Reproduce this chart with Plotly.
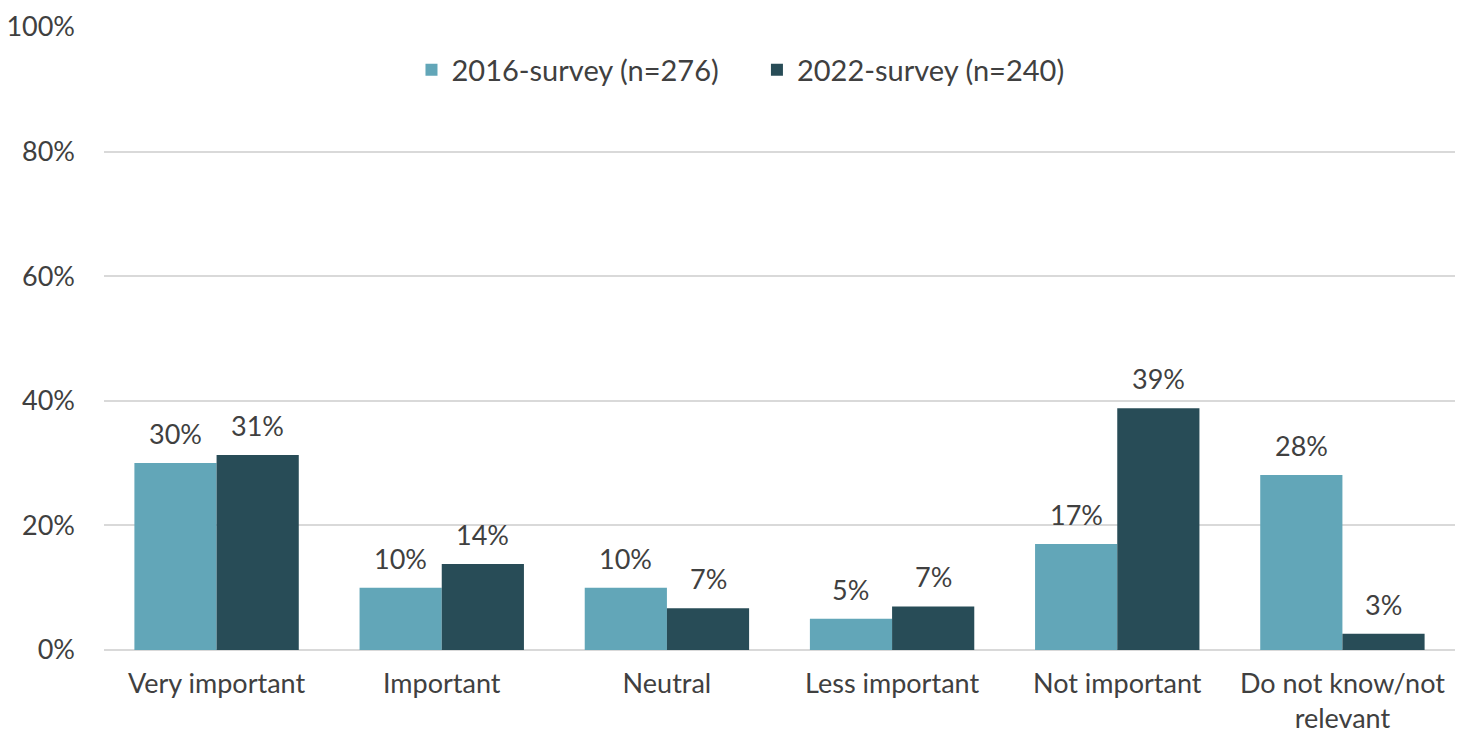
import plotly.graph_objects as go

categories = ["Very important", "Important", "Neutral", "Less important",
              "Not important", "Do not know/not<br>relevant"]
series_names = ["2016-survey (n=276)", "2022-survey (n=240)"]
values_2016 = [30.0, 10.0, 10.0, 5.0, 17.0, 28.1]
values_2022 = [31.3, 13.8, 6.7, 7.0, 38.8, 2.6]
y_ticks = [0, 20, 40, 60, 80, 100]
y_tick_labels = ["0%", "20%", "40%", "60%", "80%", "100%"]

colors = ["#62A6B8", "#284C57"]
font_family = "Lato, 'Open Sans', sans-serif"
text_color = "#404040"
bargap = 0.27
fs = 27

fig = go.Figure()
legend_ids = ["legend", "legend2"]
for name, vals, col, lg in zip(series_names, [values_2016, values_2022],
                               colors, legend_ids):
    fig.add_trace(go.Bar(
        x=categories, y=vals, name=name, legend=lg,
        marker=dict(color=col, line=dict(width=0)),
    ))

# value labels above each bar, offset to the bar's slot within the group
bar_w = (1 - bargap) / 2
annotations = []
for i, vals in enumerate([values_2016, values_2022]):
    shift = (i - 0.5) * bar_w
    for j, v in enumerate(vals):
        annotations.append(dict(
            x=j + shift, y=v, xref="x", yref="y",
            text=f"{v:.0f}%", showarrow=False,
            yanchor="bottom", yshift=11,
            font=dict(family=font_family, size=fs, color=text_color),
        ))

legend_font = dict(family=font_family, size=29, color=text_color)
fig.update_layout(
    width=1463, height=733,
    margin=dict(l=104, r=8, t=27, b=83),
    paper_bgcolor="white", plot_bgcolor="white",
    barmode="group", bargap=bargap, bargroupgap=0,
    font=dict(family=font_family, size=fs, color=text_color),
    showlegend=True,
    legend=dict(orientation="h", x=0.2276, xanchor="left",
                y=0.931, yanchor="middle", font=legend_font, itemwidth=30),
    legend2=dict(orientation="h", x=0.4833, xanchor="left",
                 y=0.931, yanchor="middle", font=legend_font, itemwidth=30),
    annotations=annotations,
    xaxis=dict(showgrid=False, showline=False, ticks="", automargin=False,
               ticklabelstandoff=15,
               tickfont=dict(family=font_family, size=fs, color=text_color)),
    yaxis=dict(range=[0, 100], tickvals=y_ticks, ticktext=y_tick_labels,
               automargin=False,
               showgrid=True, gridcolor="#D9D9D9", gridwidth=1.5,
               zeroline=True, zerolinecolor="#D9D9D9", zerolinewidth=1.5,
               showline=False, ticks="", ticklabelstandoff=28,
               tickfont=dict(family=font_family, size=fs, color=text_color)),
)

fig.write_html("out.html")
